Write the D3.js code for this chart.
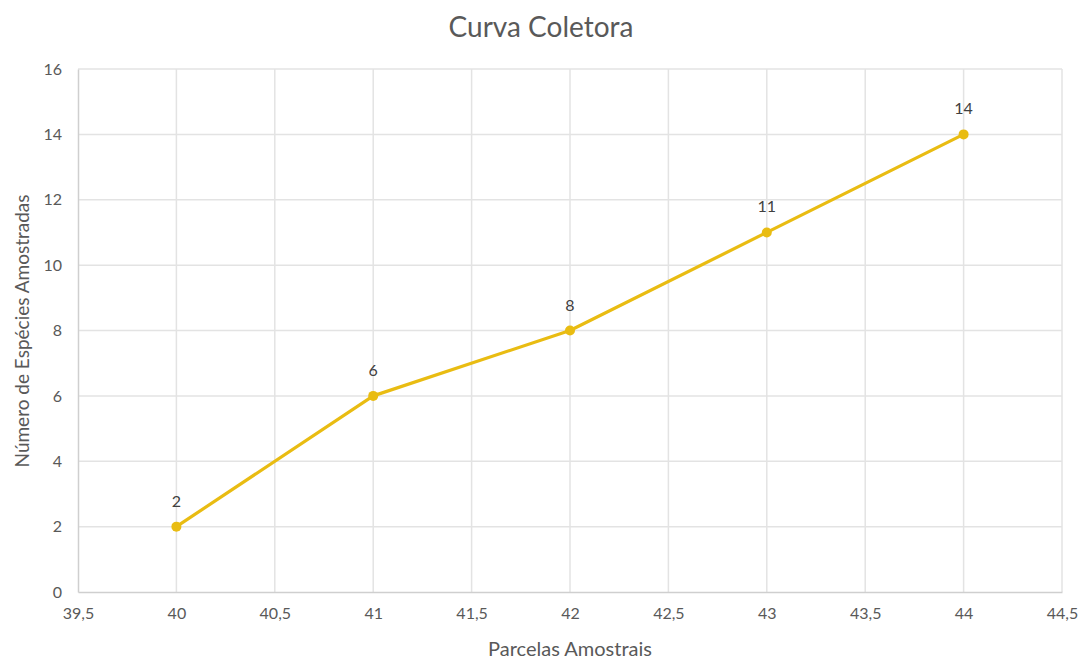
<!DOCTYPE html>
<html><head><meta charset="utf-8">
<script src="https://cdn.jsdelivr.net/npm/d3@7"></script>
<style>body{margin:0;background:#fff;}svg{display:block;font-family:Lato,"Open Sans",sans-serif;}</style>
</head><body><svg id="c" width="1082" height="659"></svg>
<script>
const parcelas = [40, 41, 42, 43, 44];
const especies = [2, 6, 8, 11, 14];
const xTicks = [39.5, 40, 40.5, 41, 41.5, 42, 42.5, 43, 43.5, 44, 44.5];
const yTicks = [0, 2, 4, 6, 8, 10, 12, 14, 16];
const title = "Curva Coletora";
const xTitle = "Parcelas Amostrais";
const yTitle = "Número de Espécies Amostradas";

const svg = d3.select("#c");
const x = d3.scaleLinear().domain([39.5, 44.5]).range([78, 1062]);
const y = d3.scaleLinear().domain([0, 16]).range([592, 69]);
const fmt = d => String(d).replace(".", ",");
const txt = "#595959";

// gridlines
svg.append("g").selectAll("line").data(yTicks.filter(d => d > 0)).join("line")
  .attr("x1", x.range()[0]).attr("x2", x.range()[1])
  .attr("y1", d => y(d)).attr("y2", d => y(d))
  .attr("stroke", "#e3e3e3").attr("stroke-width", 1.5);
svg.append("g").selectAll("line").data(xTicks.filter(d => d > 39.5)).join("line")
  .attr("y1", y.range()[0]).attr("y2", y.range()[1])
  .attr("x1", d => x(d)).attr("x2", d => x(d))
  .attr("stroke", "#e3e3e3").attr("stroke-width", 1.5);

// axes
const xAxis = svg.append("g").attr("transform", `translate(0,${y(0)})`)
  .call(d3.axisBottom(x).tickValues(xTicks).tickFormat(fmt).tickSize(0).tickPadding(16));
xAxis.select(".domain").attr("stroke", "#cfcfcf").attr("stroke-width", 1.5);
xAxis.selectAll("text").attr("fill", txt).style("font-size", "16px").style("font-family", "Lato,sans-serif");

const yAxis = svg.append("g").attr("transform", `translate(${x(39.5)},0)`)
  .call(d3.axisLeft(y).tickValues(yTicks).tickFormat(fmt).tickSize(0).tickPadding(16));
yAxis.select(".domain").attr("stroke", "#cfcfcf").attr("stroke-width", 1.5);
yAxis.selectAll("text").attr("fill", txt).style("font-size", "16px").style("font-family", "Lato,sans-serif");

// line
const pts = parcelas.map((p, i) => [p, especies[i]]);
svg.append("path").datum(pts)
  .attr("d", d3.line().x(d => x(d[0])).y(d => y(d[1])))
  .attr("fill", "none").attr("stroke", "#E9BC12").attr("stroke-width", 3.2).attr("stroke-linejoin", "round");
svg.append("g").selectAll("circle").data(pts).join("circle")
  .attr("cx", d => x(d[0])).attr("cy", d => y(d[1])).attr("r", 5)
  .attr("fill", "#E9BC12");
svg.append("g").selectAll("text").data(pts).join("text")
  .attr("x", d => x(d[0])).attr("y", d => y(d[1]) - 20)
  .attr("text-anchor", "middle").attr("fill", "#404040")
  .style("font-size", "16px").text(d => d[1]);

// titles
svg.append("text").attr("x", 541).attr("y", 37).attr("text-anchor", "middle")
  .attr("fill", txt).style("font-size", "28px").text(title);
svg.append("text").attr("x", 570).attr("y", 656).attr("text-anchor", "middle")
  .attr("fill", txt).style("font-size", "20px").text(xTitle);
svg.append("text").attr("transform", "translate(29,331) rotate(-90)").attr("text-anchor", "middle")
  .attr("fill", txt).style("font-size", "19px").text(yTitle);
</script></body></html>
